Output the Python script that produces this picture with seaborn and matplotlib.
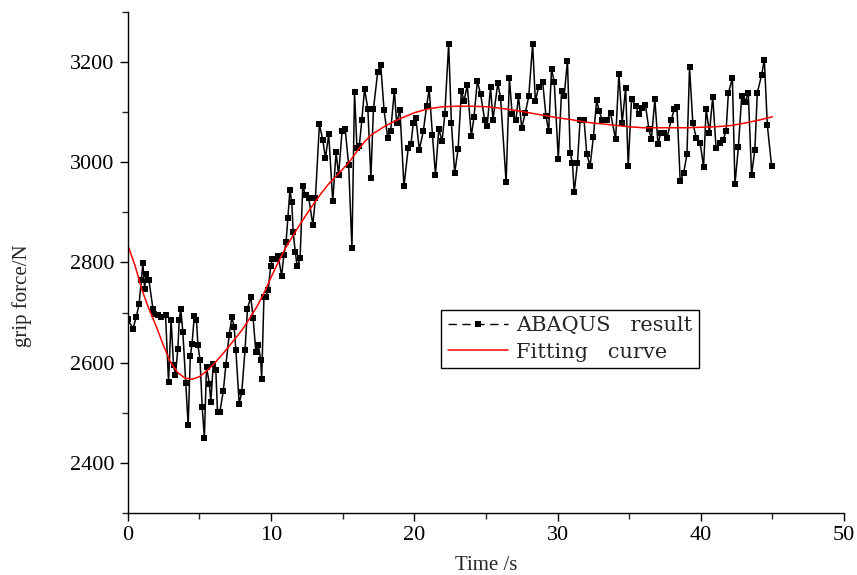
import numpy as np
import pandas as pd
import seaborn as sns
import matplotlib.pyplot as plt
from matplotlib.lines import Line2D
from matplotlib.ticker import MultipleLocator

# ABAQUS result (time in s, grip force in N)
time_s = [0.0, 0.37, 0.6, 0.8, 0.95, 1.06, 1.18, 1.3, 1.48, 1.76, 1.87, 2.1, 2.34, 2.64, 2.85,
          3.03, 3.2, 3.33, 3.5, 3.6, 3.7, 3.85, 4.05, 4.22, 4.37, 4.49, 4.65, 4.8, 4.9, 5.05,
          5.2, 5.35, 5.5, 5.7, 5.8, 5.97, 6.15, 6.27, 6.43, 6.67, 6.85, 7.08, 7.27, 7.43, 7.55,
          7.78, 7.96, 8.19, 8.36, 8.59, 8.75, 8.94, 9.12, 9.28, 9.35, 9.51, 9.63, 9.81, 9.98,
          10.09, 10.32, 10.51, 10.74, 10.9, 11.05, 11.18, 11.32, 11.45, 11.55, 11.7, 11.83,
          12.03, 12.22, 12.41, 12.64, 12.92, 13.1, 13.38, 13.61, 13.8, 14.03, 14.31, 14.54,
          14.72, 14.96, 15.18, 15.42, 15.65, 15.83, 16.0, 16.16, 16.34, 16.53, 16.76, 16.97,
          17.15, 17.45, 17.66, 17.89, 18.15, 18.35, 18.61, 18.77, 19.0, 19.28, 19.58, 19.77,
          19.93, 20.11, 20.35, 20.63, 20.86, 21.04, 21.27, 21.48, 21.71, 21.94, 22.13, 22.4,
          22.59, 22.82, 23.06, 23.29, 23.47, 23.7, 23.98, 24.17, 24.4, 24.63, 24.91, 25.09,
          25.32, 25.49, 25.83, 26.02, 26.41, 26.64, 26.83, 27.1, 27.27, 27.5, 27.75, 27.99,
          28.26, 28.45, 28.68, 28.96, 29.19, 29.38, 29.58, 29.77, 30.05, 30.28, 30.46, 30.69,
          30.88, 31.04, 31.16, 31.39, 31.57, 31.85, 32.04, 32.27, 32.5, 32.73, 32.9, 33.13,
          33.43, 33.7, 34.05, 34.28, 34.51, 34.75, 34.93, 35.16, 35.44, 35.67, 35.86, 36.13,
          36.37, 36.55, 36.79, 37.01, 37.2, 37.45, 37.64, 37.92, 38.15, 38.33, 38.56, 38.8,
          39.03, 39.21, 39.44, 39.68, 39.95, 40.19, 40.37, 40.6, 40.83, 41.06, 41.34, 41.55,
          41.76, 41.92, 42.2, 42.38, 42.62, 42.85, 43.08, 43.31, 43.54, 43.77, 43.94, 44.24,
          44.43, 44.64, 44.94]
force_n = [2687, 2668, 2691, 2718, 2765, 2798, 2748, 2778, 2765, 2708, 2698, 2695, 2691, 2696, 2561,
           2686, 2595, 2575, 2628, 2685, 2708, 2661, 2560, 2475, 2613, 2638, 2693, 2685, 2635, 2605,
           2511, 2450, 2591, 2558, 2521, 2597, 2585, 2501, 2501, 2543, 2595, 2655, 2691, 2671, 2625,
           2518, 2541, 2626, 2708, 2731, 2690, 2622, 2635, 2606, 2568, 2731, 2731, 2746, 2792,
           2806, 2806, 2813, 2773, 2815, 2840, 2889, 2945, 2920, 2860, 2820, 2792,
           2808, 2953, 2935, 2928, 2875, 2928, 3076, 3045, 3009, 3056, 2922, 3020,
           2975, 3062, 3066, 2995, 2828, 3140, 3029, 3032, 3084, 3146, 3107, 2969,
           3106, 3181, 3194, 3104, 3049, 3062, 3143, 3079, 3104, 2952, 3029, 3036,
           3079, 3089, 3025, 3062, 3112, 3146, 3054, 2975, 3067, 3042, 3096, 3236,
           3079, 2979, 3027, 3143, 3122, 3154, 3052, 3091, 3162, 3136, 3085, 3072,
           3151, 3085, 3158, 3129, 2960, 3168, 3096, 3085, 3132, 3069, 3099, 3132,
           3236, 3122, 3151, 3160, 3093, 3062, 3187, 3160, 3007, 3143, 3132, 3203,
           3018, 2999, 2940, 2999, 3084, 3084, 3016, 2993, 3051, 3124, 3102, 3084,
           3084, 3098, 3046, 3176, 3079, 3149, 2992, 3126, 3113, 3096, 3109, 3115,
           3067, 3046, 3126, 3036, 3059, 3059, 3049, 3084, 3106, 3111, 2962, 2979,
           3016, 3190, 3078, 3049, 3039, 2991, 3106, 3059, 3131, 3029, 3038, 3045,
           3062, 3138, 3168, 2956, 3031, 3132, 3120, 3138, 2975, 3025, 3139, 3174,
           3205, 3074, 2992]

# fitting curve
fit_t = [0, 0.5, 1, 1.5, 2, 2.5, 3, 3.5, 4, 4.5, 5, 5.5, 6, 6.5, 7, 7.5, 8, 8.5, 9, 9.5,
         10, 10.5, 11, 11.5, 12, 12.5, 13, 13.5, 14, 14.5, 15, 15.5, 16, 16.5, 17, 18, 19, 20,
         21, 22, 23, 24, 25, 26, 27, 28, 29, 30, 31, 32, 33, 34, 35, 36, 37, 38, 39, 40,
         41, 42, 43, 44, 45]
fit_n = [2835, 2795, 2745, 2706, 2672, 2634, 2600, 2580, 2569, 2567, 2572, 2583, 2597, 2613,
         2630, 2648, 2666, 2688, 2711, 2738, 2770, 2800, 2828, 2852, 2875, 2897, 2918, 2938,
         2956, 2971, 2986, 3002, 3022, 3040, 3055, 3073, 3087, 3099, 3107, 3111, 3112, 3112,
         3111, 3108, 3104, 3099, 3094, 3089, 3085, 3080, 3077, 3074, 3071, 3069, 3069, 3069,
         3069, 3070, 3071, 3073, 3078, 3084, 3091]

df = pd.DataFrame({'t': time_s, 'f': force_n})
fit = pd.DataFrame({'t': fit_t, 'f': fit_n})

sns.set_style("ticks")
plt.rcParams['font.family'] = ['Liberation Serif', 'DejaVu Serif']

fig = plt.figure(figsize=(8.57, 5.75), dpi=100)
ax = fig.add_axes([0.149, 0.108, 0.836, 0.871])

sns.lineplot(data=df, x='t', y='f', ax=ax, color='black', lw=1.1, sort=False,
             estimator=None, marker='s', markersize=3.8, markeredgewidth=0)
sns.lineplot(data=fit, x='t', y='f', ax=ax, color='#ff0000', lw=1.1, sort=False, estimator=None)

ax.set_xlim(0, 50)
ax.set_ylim(2300, 3300)
ax.xaxis.set_major_locator(MultipleLocator(10))
ax.xaxis.set_minor_locator(MultipleLocator(5))
ax.yaxis.set_minor_locator(MultipleLocator(100))
ax.set_yticks([2400, 2600, 2800, 3000, 3200])
ax.tick_params(axis='both', which='major', direction='out', length=6, width=1,
               labelsize=16, colors='black')
ax.tick_params(axis='both', which='minor', direction='out', length=4, width=1)
sns.despine(ax=ax)
for s in ['left', 'bottom']:
    ax.spines[s].set_color('black')
    ax.spines[s].set_linewidth(1)

ax.set_xlabel('Time /s', fontsize=15, labelpad=8)
ax.set_ylabel('grip force/N', fontsize=15)
ax.yaxis.set_label_coords(-0.133, 0.433)

handles = [Line2D([], [], color='black', lw=1.0, dashes=(6, 4), marker='s',
                  markersize=3.8, markeredgewidth=0),
           Line2D([], [], color='#ff0000', lw=1.1)]
leg = ax.legend(handles, ['ABAQUS   result', 'Fitting   curve'],
                loc='upper left', bbox_to_anchor=(0.438, 0.405), frameon=True,
                fancybox=False, edgecolor='black', framealpha=1, handlelength=2.9,
                borderpad=0.3, labelspacing=0.35, handletextpad=0.4, borderaxespad=0,
                prop={'family': 'DejaVu Serif', 'size': 15})
leg.get_frame().set_linewidth(1)

plt.savefig('out.png', dpi=100)
